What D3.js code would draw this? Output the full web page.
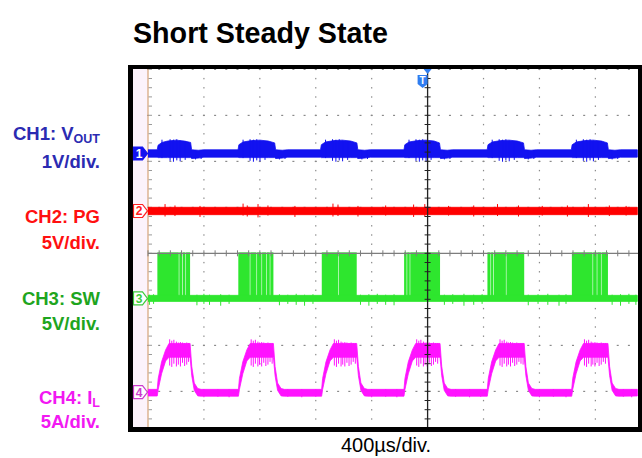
<!DOCTYPE html>
<html><head><meta charset="utf-8">
<script src="https://cdn.jsdelivr.net/npm/d3@7"></script>
<style>body{margin:0;background:#fff}svg{display:block}</style>
</head><body>
<svg id="c" width="642" height="458"></svg>
<script>
// ---------------- DATA (time in µs, trigger at 0; values in channel units) ----------------
const xDivTicks = [-5,-4,-3,-2,-1,0,1,2,3,4,5];
const yDivTicks = [-4,-3,-2,-1,0,1,2,3,4];
const timeLabel = "400µs/div.";
const titleText = "Short Steady State";

// CH1 VOUT (V): [t, upper, lower]
const ch1Band = [
 [-2000,0.08,-0.08],[-1934,0.08,-0.08],[-1928,0.18,-0.09],[-1900,0.24,-0.09],[-1860,0.27,-0.09],[-1800,0.29,-0.09],[-1740,0.27,-0.09],[-1695,0.24,-0.09],[-1688,0.08,-0.11],[-1640,0.07,-0.10],[-1600,0.08,-0.08],
 [-1356,0.08,-0.08],[-1350,0.19,-0.09],[-1320,0.25,-0.09],[-1260,0.28,-0.09],[-1200,0.29,-0.09],[-1140,0.27,-0.09],[-1094,0.23,-0.09],[-1087,0.08,-0.11],[-1040,0.07,-0.10],[-1000,0.08,-0.08],
 [-766,0.08,-0.08],[-760,0.19,-0.09],[-730,0.25,-0.09],[-670,0.28,-0.09],[-610,0.29,-0.09],[-550,0.27,-0.09],[-506,0.23,-0.09],[-499,0.08,-0.11],[-450,0.07,-0.10],[-410,0.08,-0.08],
 [-169,0.08,-0.08],[-163,0.19,-0.09],[-133,0.25,-0.09],[-73,0.28,-0.09],[-13,0.29,-0.09],[47,0.27,-0.09],[85,0.23,-0.09],[92,0.08,-0.11],[140,0.07,-0.10],[180,0.08,-0.08],
 [426,0.08,-0.08],[432,0.19,-0.09],[462,0.25,-0.09],[522,0.28,-0.09],[582,0.29,-0.09],[642,0.27,-0.09],[686,0.23,-0.09],[693,0.08,-0.11],[740,0.07,-0.10],[780,0.08,-0.08],
 [1028,0.08,-0.08],[1034,0.19,-0.09],[1064,0.25,-0.09],[1124,0.28,-0.09],[1184,0.29,-0.09],[1244,0.27,-0.09],[1286,0.23,-0.09],[1293,0.08,-0.11],[1340,0.07,-0.10],[1380,0.08,-0.08],[1500,0.08,-0.08]
];
const ch1Spikes = [
 [-1900,0.30,-0.10],[-1842,0.31,-0.16],[-1818,0.30,-0.18],[-1794,0.31,-0.15],[-1770,0.28,-0.17],[-1734,0.27,-0.14],[-1660,0.06,-0.13],[-1620,0.06,-0.12],
 [-1320,0.30,-0.10],[-1270,0.31,-0.16],[-1246,0.30,-0.18],[-1222,0.31,-0.15],[-1199,0.28,-0.17],[-1163,0.27,-0.14],[-1060,0.06,-0.13],[-1020,0.06,-0.12],
 [-730,0.30,-0.10],[-680,0.31,-0.16],[-656,0.30,-0.18],[-632,0.31,-0.15],[-608,0.28,-0.17],[-572,0.27,-0.14],[-470,0.06,-0.13],[-430,0.06,-0.12],
 [-133,0.30,-0.10],[-83,0.31,-0.16],[-59,0.30,-0.18],[-35,0.31,-0.15],[-11,0.28,-0.17],[25,0.27,-0.14],[120,0.06,-0.13],[160,0.06,-0.12],
 [462,0.30,-0.10],[512,0.31,-0.16],[536,0.30,-0.18],[560,0.31,-0.15],[584,0.28,-0.17],[620,0.27,-0.14],[720,0.06,-0.13],[760,0.06,-0.12],
 [1064,0.30,-0.10],[1114,0.31,-0.16],[1138,0.30,-0.18],[1162,0.31,-0.15],[1186,0.28,-0.17],[1222,0.27,-0.14],[1320,0.06,-0.13],[1360,0.06,-0.12]
];

// CH2 PG (V)
const ch2Band = [[-2000,0.4,-0.4],[1500,0.4,-0.4]];
const ch2Spikes = [
 [-1878,0.75,-0.6],[-1807,0.6,-0.55],[-1628,0.55,-0.65],[-1320,0.8,-0.5],[-1290,0.6,-0.6],[-1213,0.75,-0.7],
 [-1142,0.6,-0.5],[-949,0.55,-0.65],[-677,0.8,-0.6],[-641,0.7,-0.55],[-498,0.55,-0.6],[-300,0.6,-0.5],
 [-100,0.7,-0.65],[-20,0.75,-0.6],[150,0.55,-0.5],[330,0.6,-0.6],[500,0.75,-0.55],[650,0.6,-0.6],
 [820,0.55,-0.5],[1000,0.6,-0.6],[1150,0.75,-0.65],[1300,0.6,-0.55],[1420,0.55,-0.5]
];

// CH3 SW (V): low band, switching pulse segments [t0,t1] at high level, spikes
const ch3Low = [[-2000,0.33,-0.33],[1500,0.33,-0.33]];
const ch3High = 5.0;
const ch3Pulses = [
 [-1933,-1780],[-1776,-1756],[-1752,-1732],[-1728,-1699],
 [-1354,-1272],[-1268,-1224],[-1220,-1188],[-1184,-1153],[-1149,-1129],[-1125,-1103],
 [-757,-640],[-636,-507],
 [-168,-150],[-146,-128],[-124,89],
 [428,450],[454,470],[474,560],[564,691],
 [1032,1180],[1184,1210],[1214,1240],[1244,1290]
];
const ch3Spikes = [
 [-1990,0.4,-0.7],[-1960,0.45,-0.6],[-1650,0.4,-0.75],[-1600,0.5,-0.6],[-1560,0.4,-0.7],[-1480,0.45,-0.8],[-1420,0.4,-0.6],
 [-1060,0.45,-0.75],[-1000,0.4,-0.6],[-940,0.5,-0.7],[-880,0.4,-0.8],[-820,0.45,-0.6],
 [-480,0.4,-0.7],[-420,0.45,-0.8],[-360,0.5,-0.6],[-300,0.4,-0.7],[-240,0.45,-0.75],
 [120,0.4,-0.7],[180,0.45,-0.6],[260,0.5,-0.8],[330,0.4,-0.7],[390,0.45,-0.6],
 [720,0.4,-0.75],[790,0.45,-0.6],[860,0.5,-0.7],[940,0.4,-0.8],[990,0.45,-0.6],
 [1320,0.4,-0.7],[1380,0.45,-0.8],[1440,0.5,-0.6],[1490,0.4,-0.7]
];

// CH4 IL (A): [t, upper, lower]
const ch4Band = [
 [-2000,0.31,-0.41],
 [-1934,0.31,-0.41],[-1927,1.5,0.3],[-1903,3.3,2.0],[-1874,4.6,3.4],[-1850,5.3,3.8],[-1699,5.3,3.8],[-1687,2.8,1.8],[-1669,1.0,0.2],[-1644,0.4,-0.4],[-1620,0.31,-0.43],
 [-1353,0.31,-0.43],[-1346,1.5,0.3],[-1322,3.3,2.0],[-1293,4.6,3.4],[-1269,5.3,3.8],[-1103,5.3,3.8],[-1091,2.8,1.8],[-1073,1.0,0.2],[-1048,0.4,-0.4],[-1024,0.31,-0.43],
 [-758,0.31,-0.43],[-751,1.5,0.3],[-727,3.3,2.0],[-698,4.6,3.4],[-674,5.3,3.8],[-507,5.3,3.8],[-495,2.8,1.8],[-477,1.0,0.2],[-452,0.4,-0.4],[-428,0.31,-0.43],
 [-169,0.31,-0.43],[-162,1.5,0.3],[-138,3.3,2.0],[-109,4.6,3.4],[-85,5.3,3.8],[89,5.3,3.8],[101,2.8,1.8],[119,1.0,0.2],[144,0.4,-0.4],[168,0.31,-0.43],
 [427,0.31,-0.43],[434,1.5,0.3],[458,3.3,2.0],[487,4.6,3.4],[511,5.3,3.8],[691,5.3,3.8],[703,2.8,1.8],[721,1.0,0.2],[746,0.4,-0.4],[770,0.31,-0.43],
 [1031,0.31,-0.43],[1038,1.5,0.3],[1062,3.3,2.0],[1091,4.6,3.4],[1115,5.3,3.8],[1290,5.3,3.8],[1302,2.8,1.8],[1320,1.0,0.2],[1345,0.4,-0.4],[1369,0.31,-0.43],
 [1500,0.31,-0.41]
];
const ch4Spikes = [
 [-1845,5.75,2.9],[-1830,5.6,2.75],[-1815,5.7,3.1],[-1797,5.5,2.8],[-1783,5.4,3.0],[-1768,5.45,2.8],[-1753,5.4,3.2],[-1738,5.35,2.85],[-1723,5.4,3.0],[-1710,5.35,3.3],
 [-1262,5.75,2.9],[-1247,5.6,2.75],[-1232,5.7,3.1],[-1214,5.5,2.8],[-1202,5.4,3.0],[-1187,5.45,2.8],[-1172,5.4,3.2],[-1157,5.35,2.85],[-1142,5.4,3.0],[-1127,5.35,3.3],[-1112,5.35,3.1],
 [-667,5.75,2.9],[-652,5.6,2.75],[-637,5.7,3.1],[-619,5.5,2.8],[-607,5.4,3.0],[-592,5.45,2.8],[-577,5.4,3.2],[-562,5.35,2.85],[-547,5.4,3.0],[-532,5.35,3.3],[-517,5.35,3.1],
 [-78,5.75,2.9],[-63,5.6,2.75],[-48,5.7,3.1],[-30,5.5,2.8],[-18,5.4,3.0],[-3,5.45,2.8],[12,5.4,3.2],[27,5.35,2.85],[42,5.4,3.0],[57,5.35,3.3],[72,5.35,3.1],
 [518,5.75,2.9],[533,5.6,2.75],[548,5.7,3.1],[566,5.5,2.8],[578,5.4,3.0],[593,5.45,2.8],[608,5.4,3.2],[623,5.35,2.85],[638,5.4,3.0],[653,5.35,3.3],[668,5.35,3.1],[683,5.35,3.0],
 [1122,5.75,2.9],[1137,5.6,2.75],[1152,5.7,3.1],[1170,5.5,2.8],[1182,5.4,3.0],[1197,5.45,2.8],[1212,5.4,3.2],[1227,5.35,2.85],[1242,5.4,3.0],[1257,5.35,3.3],[1272,5.35,3.1],
 [-1600,0.35,-0.55],[-1500,0.35,-0.5],[-1420,0.35,-0.55],[-1000,0.35,-0.5],[-900,0.35,-0.55],[-800,0.35,-0.5],
 [-400,0.35,-0.55],[-300,0.35,-0.5],[-220,0.35,-0.55],[200,0.35,-0.5],[300,0.35,-0.55],[380,0.35,-0.5],
 [800,0.35,-0.55],[900,0.35,-0.5],[990,0.35,-0.55],[1400,0.35,-0.5],[1460,0.35,-0.55]
];

// channel settings
const channels = [
 {id:"1", offset:2.17, perDiv:1, band:ch1Band, spikes:ch1Spikes, color:"#1212f0", label:["CH1: V","OUT"], scaleText:"1V/div.", labelColor:"#2b2bb2", filled:true},
 {id:"2", offset:0.92, perDiv:5, band:ch2Band, spikes:ch2Spikes, color:"#ff0000", label:["CH2: PG",""], scaleText:"5V/div.", labelColor:"#ff1010", filled:false, mark:"#ff2020"},
 {id:"3", offset:-0.98, perDiv:5, band:ch3Low, spikes:ch3Spikes, color:"#2ee62e", label:["CH3: SW",""], scaleText:"5V/div.", labelColor:"#1ea51e", filled:false, mark:"#3ccc3c"},
 {id:"4", offset:-3.02, perDiv:5, band:ch4Band, spikes:ch4Spikes, color:"#ff12ff", label:["CH4: I","L"], scaleText:"5A/div.", labelColor:"#f218f2", filled:false, mark:"#cc3ccc"}
];

// ---------------- DRAW ----------------
const svg = d3.select("#c");
const x = d3.scaleLinear().domain([-2000,2000]).range([148,707.2]);
const yDiv = d3.scaleLinear().domain([-4,4]).range([437.3,69.3]);
const xd = d3.scaleLinear().domain([-5,5]).range([148,707.2]);
const lv = (ch,v) => yDiv(ch.offset + v/ch.perDiv);

// title
svg.append("text").attr("x",260.5).attr("y",43).attr("text-anchor","middle")
  .attr("font-family","Liberation Sans, Arial, sans-serif").attr("font-weight","bold")
  .attr("font-size",28.7).attr("fill","#000").text(titleText);

// frame
svg.append("rect").attr("x",128).attr("y",65).attr("width",514).attr("height",367).attr("fill","#000");
svg.append("rect").attr("x",133).attr("y",69).attr("width",505).attr("height",358).attr("fill","#fff");
svg.append("rect").attr("x",133).attr("y",69).attr("width",15).attr("height",358).attr("fill","#fcf3fb");

const defs = svg.append("defs");
defs.append("clipPath").attr("id","plot").append("rect").attr("x",133).attr("y",69).attr("width",505).attr("height",358);
defs.append("clipPath").attr("id","trace").append("rect").attr("x",148).attr("y",69).attr("width",490).attr("height",358);

const grid = svg.append("g").attr("clip-path","url(#plot)");
const minorX = d3.range(-25,26).map(i=>i/5);
const minorY = d3.range(-20,21).map(i=>i/5);
yDivTicks.filter(d=>d!==0).forEach(d=>{
  grid.selectAll(null).data(minorX).enter().append("rect")
    .attr("x",m=>xd(m)-1).attr("y",yDiv(d)-0.5).attr("width",2).attr("height",1.2).attr("fill","#8a8a8a");
});
xDivTicks.filter(d=>d!==0 && d!==-5).forEach(d=>{
  grid.selectAll(null).data(minorY).enter().append("rect")
    .attr("x",xd(d)-0.6).attr("y",m=>yDiv(m)-0.6).attr("width",1.2).attr("height",1.4).attr("fill","#8a8a8a");
});
grid.append("line").attr("x1",xd(-5)).attr("x2",xd(-5)).attr("y1",69).attr("y2",427).attr("stroke","#d9aa82").attr("stroke-width",1.3);
grid.selectAll(null).data(minorY).enter().append("line")
  .attr("x1",xd(-5)+0.5).attr("x2",xd(-5)+4).attr("y1",m=>yDiv(m)).attr("y2",m=>yDiv(m)).attr("stroke","#9a9a9a").attr("stroke-width",1);

// traces
const tr = svg.append("g").attr("clip-path","url(#trace)");
const area = ch => d3.area().x(d=>x(d[0])).y0(d=>lv(ch,d[2])).y1(d=>lv(ch,d[1]));
channels.forEach(ch=>{
  if (ch.id==="3") {
    tr.selectAll(null).data(ch3Pulses).enter().append("rect")
      .attr("x",d=>x(d[0])).attr("width",d=>Math.max(1,x(d[1])-x(d[0])))
      .attr("y",lv(ch,ch3High)).attr("height",lv(ch,0)-lv(ch,ch3High)).attr("fill",ch.color);
  }
  tr.append("path").datum(ch.band).attr("d",area(ch)).attr("fill",ch.color).attr("stroke",ch.color).attr("stroke-width",0.8);
  tr.selectAll(null).data(ch.spikes).enter().append("line")
    .attr("x1",d=>x(d[0])).attr("x2",d=>x(d[0])).attr("y1",d=>lv(ch,d[1])).attr("y2",d=>lv(ch,d[2]))
    .attr("stroke",ch.color).attr("stroke-width",1);
});

// center lines on top
const overlay = svg.append("g").attr("clip-path","url(#plot)");
overlay.append("line").attr("x1",148).attr("x2",638).attr("y1",yDiv(0)).attr("y2",yDiv(0)).attr("stroke","#7d7d7d").attr("stroke-width",1.3);
overlay.selectAll(null).data(minorX).enter().append("line")
  .attr("x1",m=>xd(m)).attr("x2",m=>xd(m)).attr("y1",yDiv(0)-3).attr("y2",yDiv(0)+3).attr("stroke","#7d7d7d").attr("stroke-width",1);
overlay.append("line").attr("x1",xd(0)).attr("x2",xd(0)).attr("y1",69).attr("y2",427).attr("stroke","#222").attr("stroke-width",1.3);
overlay.selectAll(null).data(minorY).enter().append("line")
  .attr("x1",xd(0)-3).attr("x2",xd(0)+3).attr("y1",m=>yDiv(m)).attr("y2",m=>yDiv(m)).attr("stroke","#222").attr("stroke-width",1);

// channel markers
channels.forEach(ch=>{
  const yc = lv(ch,0), x0 = 133.5;
  const pts = [[x0,yc-6.5],[x0+9,yc-6.5],[x0+14,yc],[x0+9,yc+6.5],[x0,yc+6.5]];
  svg.append("polygon").attr("points",pts.map(p=>p.join(",")).join(" "))
    .attr("fill",ch.filled?ch.color:"#fff").attr("stroke",ch.filled?ch.color:ch.mark).attr("stroke-width",1.2);
  svg.append("text").attr("x",x0+5.5).attr("y",yc+4.5).attr("text-anchor","middle")
    .attr("font-family","Liberation Sans, Arial, sans-serif").attr("font-weight","bold").attr("font-size",12)
    .attr("fill",ch.filled?"#fff":ch.mark).text(ch.id);
});

// trigger marker
const tx = xd(0);
svg.append("polygon").attr("points",`${tx-4},69 ${tx+4},69 ${tx},74`).attr("fill","#2f7df0");
svg.append("path").attr("d",`M${tx-10},75 h10 v9 l-5,4 l-5,-4 z`).attr("fill","#2f7df0");
svg.append("text").attr("x",tx-5).attr("y",84).attr("text-anchor","middle")
  .attr("font-family","Liberation Sans, Arial, sans-serif").attr("font-weight","bold").attr("font-size",10).attr("fill","#fff").text("T");

// channel labels
const labelY = [[140,168],[223,249],[305,330],[404,428]];
channels.forEach((ch,i)=>{
  const t = svg.append("text").attr("x",100).attr("y",labelY[i][0]).attr("text-anchor","end")
    .attr("font-family","Liberation Sans, Arial, sans-serif").attr("font-weight","bold").attr("font-size",18.5).attr("fill",ch.labelColor);
  t.append("tspan").text(ch.label[0]);
  if (ch.label[1]) t.append("tspan").attr("font-size",12.5).attr("dy",3).text(ch.label[1]);
  svg.append("text").attr("x",100).attr("y",labelY[i][1]).attr("text-anchor","end")
    .attr("font-family","Liberation Sans, Arial, sans-serif").attr("font-weight","bold").attr("font-size",18.5).attr("fill",ch.labelColor)
    .text(ch.scaleText);
});

// time base label
svg.append("text").attr("x",386).attr("y",452).attr("text-anchor","middle")
  .attr("font-family","Liberation Sans, Arial, sans-serif").attr("font-size",20).attr("fill","#000").text(timeLabel);
</script>
</body></html>
